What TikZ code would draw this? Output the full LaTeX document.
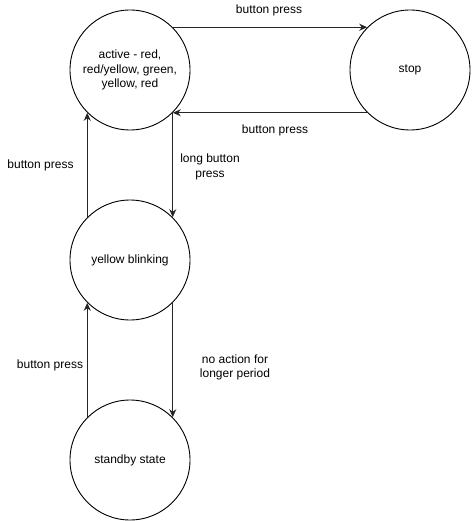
\documentclass[tikz,border=0pt]{standalone}
\usepackage{fontspec}
\setmainfont{Liberation Sans}
\usetikzlibrary{arrows.meta}
\begin{document}
\begin{tikzpicture}[x=1pt,y=-1pt,
  state/.style={draw=black,fill=white,circle,minimum size=120pt,inner sep=0pt,line width=0.9pt,align=center,font=\fontsize{12}{14.4}\selectfont},
  arr/.style={draw=black!85,line width=1pt,-{Stealth[length=8pt,width=7pt,inset=2.5pt]}},
  lbl/.style={align=center,inner sep=0pt,font=\fontsize{12}{14.4}\selectfont}]
\useasboundingbox (0,0) rectangle (471,521);
\node[state] (active) at (130,70) {active - red,\\red/yellow, green,\\yellow, red};
\node[state] (stop) at (410,70) {stop};
\node[state] (yellow) at (130,260) {yellow blinking};
\node[state] (standby) at (130,460) {standby state};
\draw[arr] (active.45) -- (stop.135);
\draw[arr] (stop.-135) -- (active.-45);
\draw[arr] (yellow.135) -- (active.-135);
\draw[arr] (active.-45) -- (yellow.45);
\draw[arr] (yellow.-45) -- (standby.45);
\draw[arr] (standby.135) -- (yellow.-135);
\node[lbl] (l1) at (269,10) {button press};
\node[lbl] (l2) at (275,130) {button press};
\node[lbl] (l3) at (40.5,165) {button press};
\node[lbl] (l4) at (210,167) {long button\\press};
\node[lbl] (l5) at (235,367.5) {no action for\\longer period};
\node[lbl] (l6) at (50,365) {button press};
\end{tikzpicture}
\end{document}
